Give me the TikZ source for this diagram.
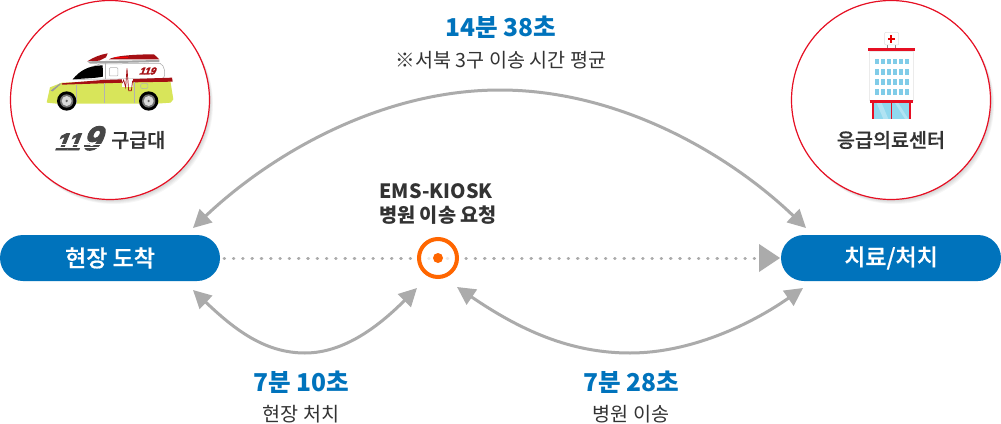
\documentclass[tikz,border=0pt]{standalone}
\usepackage{fontspec}
\usetikzlibrary{arrows.meta}
\setmainfont{Noto Sans CJK KR}
\newfontfamily\medfont[FakeBold=0.7]{Noto Sans CJK KR Medium}
\newfontfamily\logofont[FakeSlant=0.4,FakeBold=3]{Liberation Sans Bold}
\definecolor{bluex}{HTML}{0073BC}
\definecolor{grayx}{HTML}{ABABAB}
\definecolor{redx}{HTML}{E60F23}
\definecolor{orangex}{HTML}{FF6600}
\definecolor{textx}{HTML}{333333}
\definecolor{yelx}{HTML}{D8E55A}
\definecolor{darkred}{HTML}{A50F14}
\definecolor{winx}{HTML}{80CCE8}
\definecolor{doorx}{HTML}{90D8EE}
\tikzset{
  x=1pt,y=-1pt,
  badge/.style={circle,draw=redx,line width=1.2pt,fill=white,minimum size=199pt,inner sep=0pt},
  pill/.style={rounded corners=23pt,fill=bluex,text=white,minimum width=220pt,minimum height=46pt,inner sep=0pt,font=\medfont\fontsize{23}{27}\selectfont},
  bigtime/.style={text=bluex,font=\fontsize{24.6}{29}\selectfont\bfseries,inner sep=0pt},
  subtext/.style={text=textx,font=\fontsize{19.6}{24}\selectfont,inner sep=0pt},
  kiosktext/.style={text=textx,font=\fontsize{19.7}{24}\selectfont\bfseries,inner sep=0pt},
  badgetext/.style={text=textx,font=\medfont\fontsize{19.6}{24}\selectfont,inner sep=0pt},
  curvearrow/.style={draw=grayx,line width=3pt,{Triangle[length=18pt,width=18pt]}-{Triangle[length=18pt,width=18pt]}},
  dotline/.style={draw=grayx,line width=3pt,line cap=round,dash pattern=on 0.6pt off 8.7pt},
  shadowdisc/.style={circle,fill=black,fill opacity=0.035,minimum size=199pt,inner sep=0pt},
}
\begin{document}
\begin{tikzpicture}
\useasboundingbox (0,0) rectangle (1001,423);
\fill[white] (0,0) rectangle (1001,423);
% badge shadows
\foreach \d in {1,2,3,4,5}{
  \node[shadowdisc] at (110+\d*0.7,100+\d*0.9) {};
  \node[shadowdisc] at (891+\d*0.7,100+\d*0.9) {};
}
\node[badge] (amb) at (110,100) {};
\node[badge] (hosp) at (891,100) {};
% ambulance
\begin{scope}[scale=1/3]
  \fill[white,draw=black!35,line width=0.5pt] (222,238) -- (262,205) -- (300,192) -- (480,190) .. controls (495,195) and (498,225) .. (490,236) -- cycle;
  \fill[black] (218,238) .. controls (240,212) and (262,198) .. (308,196) -- (309,230) -- (290,233) -- cycle;
  \fill[darkred] (262,184) .. controls (280,172) and (300,164) .. (323,160) -- (318,172) -- (298,182) -- cycle;
  \fill[darkred] (327,178) .. controls (340,168) and (400,163) .. (462,163) -- (478,178) -- cycle;
  \fill[red] (345,172) rectangle (385,175);
  \fill[black!35] (262,184) -- (478,180) -- (478,186) -- (270,191) -- cycle;
  \draw[black!30,line width=0.5pt,rounded corners=1pt] (328,203) rectangle (354,228);
  \draw[black!30,line width=0.5pt] (316,188) -- (316,236);
  \fill[yelx] (141,303) -- (150,262) -- (186,248) -- (510,236) -- (520,298) -- (512,308) -- (470,311) -- (170,311) -- (141,308) -- cycle;
  \fill[darkred] (185,250) -- (308,240) -- (516,233) -- (518,245) -- (400,247) -- (186,254) -- cycle;
  \fill[black!40] (152,272) -- (180,250) -- (183,252) -- (158,274) -- cycle;
  \draw[black!30,line width=0.5pt] (230,255) -- (230,308) (314,250) -- (314,308) (404,246) -- (404,308);
  \fill[white] (366,238) rectangle (398,262);
  \draw[darkred,line width=0.7pt] (366,250) -- (371,240) -- (377,262) -- (381,205) -- (386,272) -- (394,272) -- (398,242);
  \draw[black!30,line width=0.5pt,rounded corners=2pt] (422,250) rectangle (444,266);
  \foreach \wx in {200,446}{
    \fill[black] (\wx,303) circle (29);
    \fill[black!55] (\wx,303) circle (20);
    \fill[white!85!black] (\wx,303) circle (15);
    \fill[black!60] (\wx,303) circle (4);
  }
\end{scope}
\node[text=darkred,inner sep=0pt,font=\logofont\fontsize{10}{10}\selectfont] (amblogo) at (147,71) {119};
% 119 logo and label
\node[text=black!72,inner sep=0pt,font=\logofont\fontsize{24}{24}\selectfont,anchor=base west] (logo) at (54,150) {11\kern1.5pt\fontsize{34}{34}\selectfont 9};
\foreach \sy in {144.5,147.5}{
  \draw[white,line width=0.5pt] (50,\sy) -- (108,\sy);
}
\node[badgetext,anchor=west] (ambtext) at (111,140) {구급대};
% hospital
\begin{scope}[shift={(780,0)},scale=1/3]
  \fill[white,draw=black!8,line width=0.5pt] (268,154) rectangle (400,300);
  \draw[black!45,line width=0.5pt] (322,135) -- (322,144) (346,135) -- (346,144);
  \fill[white,draw=black!12,line width=0.5pt,rounded corners=1pt] (314,97) rectangle (356,135);
  \fill[red!90!black] (331,105) rectangle (337,129);
  \fill[red!90!black] (323,114) rectangle (345,120);
  \fill[redx] (264,144) rectangle (405,154);
  \foreach \wy in {176,207,238,268}{
    \foreach \wx in {285,303,321,339,357,375}{
      \fill[winx] (\wx,\wy) rectangle +(11,17);
    }
  }
  \fill[doorx] (276,309) rectangle (393,357);
  \fill[white,opacity=0.3] (290,309) -- (305,309) -- (325,357) -- (310,357) -- cycle;
  \fill[white,opacity=0.3] (345,309) -- (355,309) -- (385,357) -- (375,357) -- cycle;
  \fill[redx] (269,299) rectangle (400,309);
  \fill[redx] (276,309) rectangle (281,357);
  \fill[redx] (388,309) rectangle (393,357);
  \fill[redx] (332,309) rectangle (336,357);
\end{scope}
\node[badgetext] (hosptext) at (891,140) {응급의료센터};
% pills
\node[pill] (arrive) at (110,258) {현장 도착};
\node[pill] (treat) at (891,258) {치료/처치};
% connector ends
\coordinate (topL) at (193,228);
\coordinate (topR) at (806,228);
\coordinate (topM) at (500,90);
\coordinate (lowL) at (193,290);
\coordinate (kioskL) at (417,288);
\coordinate (kioskR) at (457,287);
\coordinate (lowR) at (803,288);
\coordinate (lowM1) at (305,353);
\coordinate (lowM2) at (630,353);
\coordinate (dotstart) at (224,258);
\coordinate (dotend) at (755,258);
% connectors
\draw[curvearrow] (topL) .. controls (270,155) and (380,90) .. (topM) .. controls (620,90) and (730,155) .. (topR);
\draw[curvearrow] (lowL) .. controls (235,330) and (265,353) .. (lowM1) .. controls (345,353) and (380,325) .. (kioskL);
\draw[curvearrow] (kioskR) .. controls (520,330) and (570,353) .. (lowM2) .. controls (690,353) and (750,325) .. (lowR);
\draw[dotline] (dotstart) -- (dotend);
\fill[grayx] (759,244) -- (780,258) -- (759,272) -- cycle;
% kiosk
\node[circle,draw=orangex,line width=4pt,fill=white,fill opacity=0.75,draw opacity=1,minimum size=38pt,inner sep=0pt] (kiosk) at (438,258) {};
\node[circle,fill=orangex,minimum size=10pt,inner sep=0pt] (kioskdot) at (438,258) {};
% texts
\node[kiosktext] (k1) at (436,191) {EMS-KIOSK};
\node[kiosktext] (k2) at (438,215) {병원 이송 요청};
\node[bigtime] (t1) at (501,27) {14분 38초};
\node[subtext] (s1) at (501,60) {※서북 3구 이송 시간 평균};
\node[bigtime] (t2) at (301,382) {7분 10초};
\node[subtext] (s2) at (301,414) {현장 처치};
\node[bigtime] (t3) at (631,382) {7분 28초};
\node[subtext] (s3) at (631,414) {병원 이송};
\end{tikzpicture}
\end{document}
